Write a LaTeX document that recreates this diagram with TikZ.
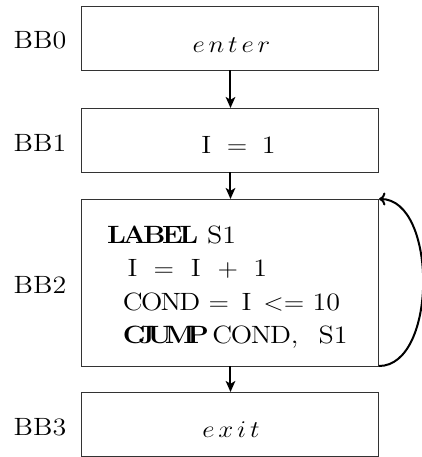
\documentclass[tikz,border=0pt]{standalone}
\usepackage{graphicx}
\usetikzlibrary{arrows.meta}
% text in this figure is set slightly wide
\newcommand\wide[1]{\scalebox{1.12}[1]{#1}}
\begin{document}
\begin{tikzpicture}[x=0.5pt,y=-0.5pt,
  every node/.style={font=\fontsize{12.5}{15}\selectfont, inner sep=0pt, outer sep=0pt},
  block/.style={draw=black!80, line width=0.5pt, rectangle, minimum width=148.5pt},
  small/.style={block, minimum height=32pt},
  txt/.style={anchor=base},
  line/.style={anchor=base west},
  bblabel/.style={anchor=base},
  flow/.style={line width=1pt, -{Stealth[length=5.5pt,width=4.8pt,inset=1.4pt]}},
  back/.style={line width=1pt, -{To[length=3.2pt,width=6.5pt]}}]
\useasboundingbox (0,0) rectangle (422,457);

% basic blocks
\node[small] (bb0) at (230.5,38) {};
\node[small] (bb1) at (230.5,140) {};
\node[block, minimum height=83.5pt] (bb2) at (230.5,282.5) {};
\node[small] (bb3) at (230.5,424) {};

% block names
\node[bblabel] (l0) at (40,48) {\wide{BB0}};
\node[bblabel] (l1) at (40,151) {\wide{BB1}};
\node[bblabel] (l2) at (40,293) {\wide{BB2}};
\node[bblabel] (l3) at (40,435) {\wide{BB3}};

% block contents
\node[txt] (t0) at (231.5,52) {\wide{$e\mkern2.6mu n\mkern2.6mu t\mkern2.6mu e\mkern2.6mu r$}};
\node[txt] (t1) at (238.5,153) {\wide{I\hspace{0.56em}$=$\hspace{0.52em}1}};
\node[line] (c1) at (107,243) {\wide{\textbf{L\kern-1.5pt A\kern-1.5pt B\kern-1.5pt E\kern-1.5pt L}\hspace{0.32em}S1}};
\node[line] (c2) at (127.5,276) {\wide{I\hspace{0.58em}$=$\hspace{0.6em}I\hspace{0.6em}$+$\hspace{0.55em}1}};
\node[line] (c3) at (123,310) {\wide{C\kern-0.8pt O\kern-0.8pt N\kern-0.8pt D\hspace{0.3em}$=$\hspace{0.45em}I\hspace{0.42em}$<$$=$\hspace{0.3em}10}};
\node[line] (c4) at (123,343) {\wide{\textbf{C\kern-3.2pt J\kern-3.2pt U\kern-3.2pt M\kern-3.2pt P}\hspace{0.12em}C\kern-0.6pt O\kern-0.6pt N\kern-0.6pt D,\hspace{0.72em}S1}};
\node[txt] (t3) at (231,437) {\wide{$e\mkern2.6mu x\mkern2.6mu i\mkern2.6mu t$}};

% control flow
\draw[flow] (bb0) -- (bb1);
\draw[flow] (bb1) -- (bb2);
\draw[flow] (bb2) -- (bb3);
\draw[back] (bb2.south east) to[out=0,in=0,looseness=0.9] (bb2.north east);
\end{tikzpicture}
\end{document}
